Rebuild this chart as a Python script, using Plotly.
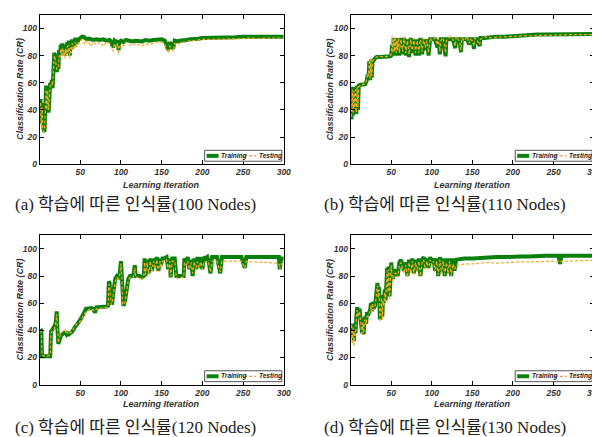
import plotly.graph_objects as go

# ---------------- data ----------------
x_ticks = [50, 100, 150, 200, 250, 300]
y_ticks = [0, 20, 40, 60, 80, 100]
captions = ["(a) 학습에 따른 인식률(100 Nodes)", "(b) 학습에 따른 인식률(110 Nodes)",
            "(c) 학습에 따른 인식률(120 Nodes)", "(d) 학습에 따른 인식률(130 Nodes)"]
series_names = ["Training", "Testing"]

a_iter = [1, 2, 3, 4, 5, 6, 7, 8, 9, 10,
          11, 12, 13, 14, 15, 16, 17, 18, 19, 20,
          21, 22, 23, 24, 25, 26, 27, 28, 29, 30,
          31, 32, 33, 34, 35, 36, 37, 38, 39, 40,
          42, 44, 46, 48, 50, 52, 54, 56, 58, 60,
          63, 66, 70, 74, 78, 82, 86, 88, 90, 92,
          94, 96, 97, 98, 100, 103, 106, 110, 114, 118,
          122, 126, 130, 135, 140, 145, 150, 154, 156, 158,
          160, 162, 164, 166, 168, 172, 176, 180, 185, 190,
          195, 200, 210, 220, 230, 240, 250, 260, 270, 280,
          290, 300]
a_train = [48, 30, 45, 27, 25, 24, 40, 58, 38, 57,
           38, 58, 60, 56, 62, 56, 81, 82, 80, 76,
           68, 72, 70, 84, 80, 88, 82, 89, 84, 88,
           80, 87, 82, 90, 84, 91, 80, 88, 85, 92,
           87, 93, 89, 92, 93, 94, 94, 93, 92, 92.5,
           92, 91.5, 92, 91.5, 92, 91, 91.5, 90, 86, 91,
           90, 91, 84, 90, 91, 90, 91.5, 91, 90.5, 91,
           91, 90.5, 91.5, 91, 91.5, 92, 92, 91, 88, 84,
           90, 88, 85, 91, 90.5, 91, 91, 91.5, 92, 92,
           92.5, 93, 93, 93.5, 93.5, 93.5, 94, 94, 94, 94,
           94, 94]
a_test = [45, 28, 42, 25, 24, 26, 38, 55, 40, 54,
          40, 56, 58, 58, 60, 58, 78, 80, 78, 74,
          70, 70, 72, 80, 78, 85, 80, 86, 80, 84,
          78, 85, 80, 87, 82, 88, 78, 86, 82, 89,
          84, 90, 86, 90, 91, 92, 90, 88, 91, 90,
          87, 90, 88, 90, 87, 90, 89, 87, 83, 89,
          86, 89, 81, 86, 88, 87, 90, 88, 87, 89,
          88, 87, 89, 88, 89, 90, 90, 88, 85, 82,
          87, 86, 83, 89, 88, 89, 90, 90, 91, 91,
          91.5, 92, 92, 92, 92.5, 92.5, 92.5, 93, 92.5, 93,
          93, 93]

b_iter = [1, 2, 3, 4, 5, 6, 7, 8, 9, 10,
          12, 15, 18, 20, 21, 22, 23, 24, 25, 26,
          27, 28, 30, 32, 36, 40, 45, 49, 50, 51,
          52, 53, 54, 55, 56, 57, 58, 59, 60, 62,
          64, 66, 68, 70, 72, 74, 76, 78, 80, 82,
          84, 86, 88, 90, 92, 94, 96, 98, 100, 104,
          107, 108, 110, 111, 114, 117, 118, 122, 126, 129,
          130, 134, 136, 137, 140, 144, 146, 147, 150, 152,
          153, 156, 159, 160, 165, 170, 180, 190, 200, 210,
          220, 230, 240, 250, 260, 270, 280, 290, 300]
b_train = [33, 57, 36, 56, 38, 57, 37, 58, 40, 58,
           58.5, 59, 59, 62, 66, 64, 76, 62, 77, 64,
           77, 76, 78, 79, 79, 79, 79.5, 79.5, 80, 88,
           80, 93, 81, 92, 80, 93, 82, 93, 80, 93,
           81, 93, 80, 92, 79, 93, 82, 92, 80, 92,
           80, 93, 81, 92, 84, 92, 80, 92, 92, 92,
           86, 92, 81, 92, 92, 79.5, 92, 92, 92, 85.5,
           92, 92, 82.5, 92, 92, 92, 88, 92, 92, 85,
           92, 92, 87, 93, 93, 93.5, 94, 94, 94.5, 95,
           95, 95.5, 95.5, 95.5, 96, 96, 96, 96, 96]
b_test = [35, 55, 38, 54, 40, 55, 38, 57, 42, 57,
          58, 59, 59, 63, 67, 65, 77, 63, 78, 65,
          76, 77, 78, 79, 79.5, 79, 79.5, 80, 81, 95,
          82, 92, 83, 94, 82, 91, 84, 93, 82, 92,
          83, 94, 82, 91, 81, 92, 84, 93, 82, 91,
          82, 92, 83, 93, 86, 91, 82, 93, 91, 93,
          88, 93, 83, 91, 93, 82, 91, 94, 92, 87,
          94, 91, 84, 93, 91, 94, 89, 92, 91, 87,
          93, 91, 88, 92, 94, 93, 93.5, 94, 94, 94.5,
          94.5, 95, 95, 95, 95.5, 95.5, 95.5, 95.5, 95.5]

c_iter = [1, 2, 3, 5, 8, 10, 13, 14, 16, 18,
          19, 20, 21, 22, 23, 24, 26, 28, 30, 32,
          33, 34, 36, 38, 40, 43, 46, 49, 52, 55,
          57, 60, 63, 66, 68, 70, 74, 78, 82, 84,
          85, 86, 87, 88, 89, 91, 93, 95, 97, 98,
          99, 100, 101, 102, 103, 105, 107, 109, 111, 113,
          115, 117, 118, 120, 123, 126, 128, 129, 130, 132,
          134, 136, 138, 140, 142, 144, 146, 148, 149, 151,
          153, 156, 158, 160, 161, 163, 166, 168, 170, 174,
          177, 178, 180, 182, 184, 186, 188, 190, 192, 194,
          196, 198, 200, 202, 204, 206, 208, 210, 212, 214,
          218, 222, 224, 230, 240, 248, 252, 254, 260, 270,
          280, 290, 294, 295, 297, 300]
c_train = [41, 40, 21, 21, 21, 21, 21, 39, 41, 42,
           44, 47, 54, 40, 30, 32, 36, 37, 38, 38,
           37, 38, 37, 38, 39, 42, 44, 47, 50, 53,
           56, 56, 56.5, 56, 53, 57, 57, 57, 57.5, 58,
           76, 75, 62, 60, 59, 70, 78, 80, 79, 80,
           90, 91, 80, 60, 58, 62, 70, 78, 80, 80,
           80, 88, 80, 80, 80, 79, 80, 93, 80, 92,
           82, 93, 84, 93, 86, 94, 84, 93, 88, 93,
           93, 94, 85, 93, 79, 93, 93, 80, 80, 80,
           80, 93, 89, 94, 85, 92, 80, 93, 85, 94,
           86, 94, 85, 94, 93, 94, 90, 82, 94, 94,
           94, 82, 94, 94, 94, 94, 86, 94, 94, 94,
           94, 94, 94, 85, 93, 93]
c_test = [40, 39, 22, 21, 21, 21, 22, 38, 40, 41,
          43, 46, 52, 41, 31, 34, 38, 39, 41, 39,
          40, 38, 39, 38, 40, 43, 45, 46, 49, 52,
          54, 55, 56, 55, 54, 56, 56.5, 57, 57, 57,
          74, 73, 61, 59, 60, 68, 76, 79, 78, 79,
          88, 89, 79, 59, 59, 61, 69, 77, 79, 79,
          79, 86, 79, 79, 78, 78, 79, 90, 81, 90,
          81, 91, 83, 91, 85, 92, 83, 91, 86, 91,
          91, 92, 84, 91, 80, 91, 91, 79, 78, 79,
          79, 90, 88, 91, 85, 90, 82, 90.5, 84, 90.5,
          86, 90.5, 85, 90.5, 90, 91, 89, 83, 91, 91,
          91, 83, 91, 91, 91, 91, 86, 91, 90.5, 90.5,
          90, 89.5, 89.5, 85, 89, 89]

d_iter = [1, 2, 3, 4, 5, 6, 7, 8, 9, 10,
          11, 12, 13, 14, 15, 16, 17, 18, 19, 20,
          22, 24, 25, 26, 27, 28, 30, 31, 32, 33,
          34, 35, 36, 37, 38, 39, 40, 41, 42, 43,
          44, 45, 46, 47, 48, 49, 50, 51, 52, 54,
          56, 58, 60, 62, 64, 66, 68, 70, 72, 74,
          76, 78, 80, 82, 84, 86, 88, 90, 92, 94,
          96, 98, 100, 102, 104, 106, 108, 110, 112, 114,
          116, 118, 120, 122, 124, 126, 128, 130, 135, 140,
          150, 160, 170, 180, 190, 200, 210, 220, 230, 240,
          250, 256, 258, 260, 270, 280, 290, 300]
d_train = [42, 35, 45, 32, 44, 38, 50, 57, 52, 55,
           56, 50, 44, 38, 48, 37, 48, 50, 45, 52,
           52, 55, 60, 54, 61, 56, 58, 63, 72, 75,
           66, 72, 48, 60, 66, 50, 64, 60, 70, 62,
           74, 86, 70, 87, 65, 80, 90, 82, 78, 84,
           84, 80, 90, 92, 88, 84, 90, 80, 92, 84,
           93, 82, 92, 84, 93, 80, 92, 94, 86, 93,
           86, 94, 90, 93, 84, 93, 80, 94, 83, 93,
           80, 93, 82, 93, 80, 93, 84, 92, 92.5, 93,
           93, 93.5, 94, 94, 94, 94.5, 94.5, 94.5, 95, 95,
           95, 95, 89, 95, 95, 95, 95, 95]
d_test = [44, 30, 42, 28, 40, 36, 48, 55, 50, 53,
          54, 48, 42, 36, 46, 38, 46, 48, 44, 50,
          51, 54, 58, 53, 60, 55, 57, 62, 70, 73,
          64, 70, 46, 58, 64, 48, 62, 58, 68, 60,
          72, 84, 68, 85, 63, 78, 88, 80, 76, 82,
          82, 79, 88, 90, 86, 82, 88, 79, 90, 82,
          91, 81, 90, 83, 91, 80, 90, 92, 85, 91,
          85, 92, 88, 91, 83, 91, 81, 92, 82, 91,
          81, 90, 82, 91, 80, 89, 85, 88, 88, 89,
          89, 89.5, 90, 89.5, 90, 90, 90.5, 90.5, 90.5, 91,
          90.5, 91, 90, 91, 91, 91.5, 91.5, 91.5]

# ---------------- styling ----------------
GREEN = "#0b800b"
ORANGE = "#f2aa22"
W, H = 600, 437
TICK_FONT = dict(family="Liberation Sans, Arial", size=8.5, color="#333333", weight="bold", style="italic")
TITLE_FONT = dict(family="Liberation Sans, Arial", size=9, color="#333333", weight="bold", style="italic")
CAP_FONT = dict(family="Liberation Serif, Noto Sans CJK KR", size=17, color="#222222")

# plot-area pixel boxes (left, right, top, bottom)
boxes = [(32, 279, 7, 158), (346.7, 593, 7, 158), (32, 279, 230, 381), (346.7, 593, 230, 381)]
caption_pos = [(5, 199), (318, 199), (5, 424), (318, 424)]
ytitle_x = [11.7, 325.7, 11.7, 325.7]
xtitle_y = [179, 179, 401, 401]

panels = [(a_iter, a_train, a_test), (b_iter, b_train, b_test),
          (c_iter, c_train, c_test), (d_iter, d_train, d_test)]

fig = go.Figure()
layout = dict(width=W, height=H, margin=dict(l=0, r=0, t=0, b=0),
              paper_bgcolor="white", plot_bgcolor="white", showlegend=False)
annotations = []
shapes = []

for i, (it, tr, te) in enumerate(panels):
    n = "" if i == 0 else str(i + 1)
    xa, ya = "x" + n, "y" + n
    fig.add_trace(go.Scatter(x=it, y=tr, mode="lines", name=series_names[0],
                             line=dict(color=GREEN, width=4), xaxis=xa, yaxis=ya))
    fig.add_trace(go.Scatter(x=it, y=te, mode="lines", name=series_names[1],
                             line=dict(color=ORANGE, width=1.2, dash="3px,2px"), xaxis=xa, yaxis=ya))
    l, r, t, b = boxes[i]
    layout["xaxis" + n] = dict(domain=[l / W, r / W], anchor=ya, range=[0, 300],
                               tickvals=x_ticks, ticks="inside", ticklen=4, tickcolor="black",
                               showline=True, linecolor="black", linewidth=1, mirror="ticks",
                               showgrid=False, zeroline=False, tickfont=TICK_FONT)
    layout["yaxis" + n] = dict(domain=[1 - b / H, 1 - t / H], anchor=xa, range=[0, 110],
                               tickvals=y_ticks, ticks="inside", ticklen=4, tickcolor="black",
                               showline=True, linecolor="black", linewidth=1, mirror="ticks",
                               showgrid=False, zeroline=False, tickfont=TICK_FONT)
    # axis titles
    annotations.append(dict(text="Learning Iteration", x=(l + r) / 2 / W, y=1 - xtitle_y[i] / H,
                            xref="paper", yref="paper", showarrow=False, font=TITLE_FONT,
                            xanchor="center", yanchor="middle"))
    annotations.append(dict(text="Classification Rate (CR)", x=ytitle_x[i] / W, y=1 - (t + b) / 2 / H,
                            xref="paper", yref="paper", showarrow=False, font=TITLE_FONT,
                            textangle=-90, xanchor="center", yanchor="middle"))
    # caption
    cx, cy = caption_pos[i]
    annotations.append(dict(text=captions[i], x=cx / W, y=1 - cy / H, xref="paper", yref="paper",
                            showarrow=False, font=CAP_FONT, xanchor="left", yanchor="middle"))
    # legend box (drawn in axis-domain coordinates)
    dx, dy = xa + " domain", ya + " domain"
    shapes.append(dict(type="rect", xref=dx, yref=dy, x0=0.676, x1=0.992, y0=0.02, y1=0.093,
                       line=dict(color="#555555", width=1), fillcolor="white", layer="above"))
    shapes.append(dict(type="line", xref=dx, yref=dy, x0=0.684, x1=0.733, y0=0.056, y1=0.056,
                       line=dict(color=GREEN, width=4), layer="above"))
    shapes.append(dict(type="line", xref=dx, yref=dy, x0=0.838, x1=0.887, y0=0.056, y1=0.056,
                       line=dict(color="#e8701a", width=1, dash="3px,2px"), layer="above"))
    leg_font = dict(family="Liberation Sans, Arial", size=6.5, color="#222222", weight="bold", style="italic")
    annotations.append(dict(text=series_names[0], x=0.735, y=0.056, xref=dx, yref=dy, showarrow=False,
                            font=leg_font, xanchor="left", yanchor="middle"))
    annotations.append(dict(text=series_names[1], x=0.889, y=0.056, xref=dx, yref=dy, showarrow=False,
                            font=leg_font, xanchor="left", yanchor="middle"))

layout["annotations"] = annotations
layout["shapes"] = shapes
fig.update_layout(**layout)
fig.write_html("out.html")
